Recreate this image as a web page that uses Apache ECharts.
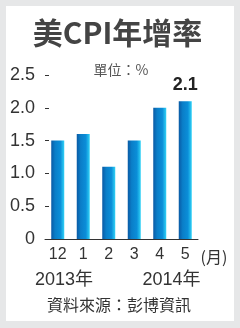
<!DOCTYPE html>
<html><head><meta charset="utf-8">
<script src="https://cdn.jsdelivr.net/npm/echarts@6/dist/echarts.min.js"></script>
<style>html,body{margin:0;padding:0;background:#e6e7e8}#c{width:240px;height:328px}</style>
</head><body><div id="c"></div>
<script>
const categories = ['12','1','2','3','4','5'];
const values = [1.5, 1.6, 1.1, 1.5, 2.0, 2.1];
const yTicks = [0, 0.5, 1.0, 1.5, 2.0, 2.5];
const title = '美CPI年增率';
const unit = '單位：%';
const yearLabels = ['2013年', '2014年'];
const monthUnit = '(月)';
const source = '資料來源：彭博資訊';

const chart = echarts.init(document.getElementById('c'), null, {renderer:'canvas'});
const barColor = new echarts.graphic.LinearGradient(0,0,1,0,[
  {offset:0,color:'#0a5aa5'},{offset:0.3,color:'#0a7ec8'},{offset:0.7,color:'#0b8ed8'},{offset:1,color:'#30d2f6'}]);
chart.setOption({
  backgroundColor:'#e6e7e8',
  animation:false,
  grid:{left:45,right:42,top:75,bottom:89},
  xAxis:{type:'category',data:categories,
    axisLine:{lineStyle:{color:'#333',width:1}},
    axisTick:{inside:true,length:4,lineStyle:{color:'#333'}},
    axisLabel:{color:'#333',fontSize:16,fontFamily:'Liberation Sans, Arial',margin:8}},
  yAxis:{type:'value',min:0,max:2.5,interval:0.5,
    axisLine:{show:false},splitLine:{show:false},
    axisTick:{show:true,inside:true,length:4,lineStyle:{color:'#333'}},
    axisLabel:{color:'#333',fontSize:18,fontFamily:'Liberation Sans, Arial',margin:10,
      formatter:v=>v===0?'0':v.toFixed(1)}},
  series:[{type:'bar',barWidth:13,
    data:values.map((v,i)=>i===values.length-1?{value:v,label:{show:true,position:'top',distance:7,
      fontSize:18,fontWeight:'bold',color:'#222',fontFamily:'Liberation Sans, Arial',formatter:'{c}'}}:v),
    itemStyle:{color:barColor}}],
  graphic:[
    {type:'rect',z:-10,shape:{x:6,y:6,width:228,height:315},style:{fill:'#ffffff'}},
    {type:'text',x:117.5,y:33,style:{text:title,font:'bold 30px "Liberation Sans Narrow", "Noto Sans CJK TC"',fill:'#444',align:'center',verticalAlign:'middle'}},
    {type:'text',x:121,y:70,style:{text:unit,font:'14px "Noto Sans CJK TC"',fill:'#555',align:'center',verticalAlign:'middle'}},
    {type:'text',x:214,y:257,style:{text:monthUnit,font:'16px "Noto Sans CJK TC"',fill:'#333',align:'center',verticalAlign:'middle'}},
    {type:'text',x:64,y:280,style:{text:yearLabels[0],font:'18px "Liberation Sans", "Noto Sans CJK TC"',fill:'#333',align:'center',verticalAlign:'middle'}},
    {type:'text',x:171.5,y:280,style:{text:yearLabels[1],font:'18px "Liberation Sans", "Noto Sans CJK TC"',fill:'#333',align:'center',verticalAlign:'middle'}},
    {type:'text',x:119,y:305,style:{text:source,font:'16px "Noto Sans CJK TC"',fill:'#333',align:'center',verticalAlign:'middle'}}
  ]
});
</script></body></html>
